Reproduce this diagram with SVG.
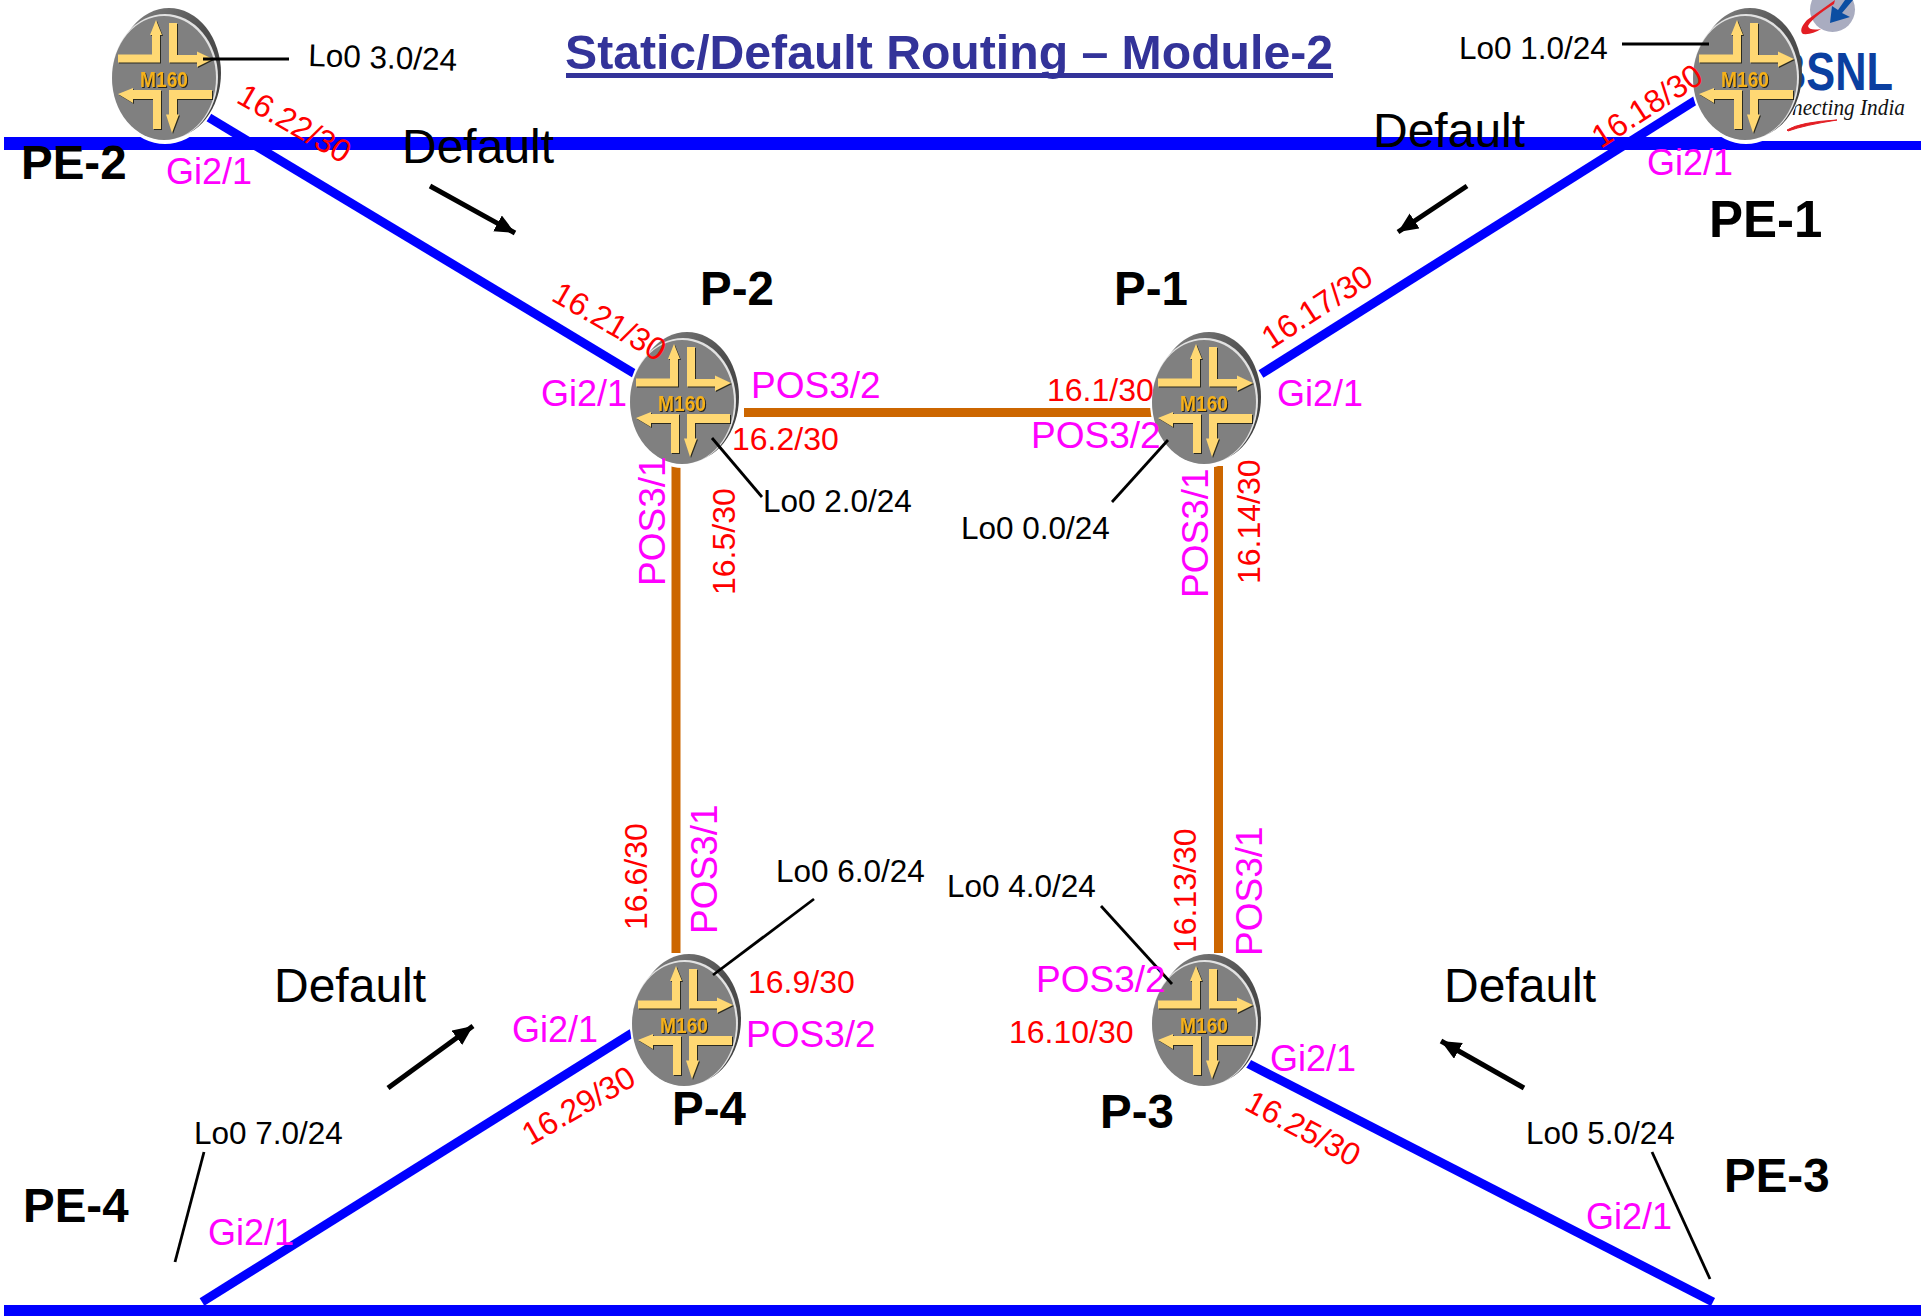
<svg xmlns="http://www.w3.org/2000/svg" width="1923" height="1316" viewBox="0 0 1923 1316">
<style>
text{font-family:"Liberation Sans",Arial,sans-serif}
.lo{font-size:31.5px;fill:#000}
.d{font-size:48px;fill:#000}
.n{font-size:47.5px;font-weight:bold;fill:#000}
.g{font-size:37px;fill:#ff00ff}
.gi{font-size:36px;fill:#ff00ff}
.r{font-size:32px;fill:#ff0000}
.bar{fill:#0000ff}
.blue{stroke:#0000ff;stroke-width:9;fill:none}
.or{stroke:#cc6600;stroke-width:9;fill:none}
.lead{stroke:#000;stroke-width:2.8;fill:none}
.arr{stroke:#000;stroke-width:5;fill:none;marker-end:url(#ah)}
.m{font-size:22px;font-weight:bold;fill:#f6b119;text-anchor:middle;filter:drop-shadow(1px 1px 0 #222)}
.ya{fill:#ffd873;filter:drop-shadow(1.2px 1.2px 0 #2a2a20)}
</style>
<defs>
<marker id="ah" markerUnits="userSpaceOnUse" markerWidth="24" markerHeight="20" refX="20" refY="9" orient="auto"><path d="M0 0L20 9L0 18Z" fill="#000"/></marker>
<linearGradient id="bk" x1="0" y1="0" x2="1" y2="1"><stop offset="0" stop-color="#8a8a8a"/><stop offset=".5" stop-color="#505050"/><stop offset="1" stop-color="#3a3a3a"/></linearGradient>
<g id="router">
<ellipse cx="0" cy="1" rx="55" ry="66" fill="#fff"/>
<ellipse cx="4" cy="-4" rx="52" ry="65" fill="url(#bk)"/>
<ellipse cx="0" cy="0" rx="53" ry="63" fill="#e2e2e2"/>
<ellipse cx="-1" cy="1" rx="52" ry="62" fill="#808080"/>
<path class="ya" d="M-47-22.500H-13V-42H-15L-9-57L-3-42H-5V-14.500H-47Z"/>
<path class="ya" d="M4-54H12V-22H32V-25.500L48-18L32-10V-14.500H4Z"/>
<path class="ya" d="M47 13V22H12V37.500H14L7 56L1 37.500H4V13Z"/>
<path class="ya" d="M-4 13V52H-12V22H-32V26L-47 17L-32 11V13Z"/>
<text class="m" x="-1" y="10" textLength="48" lengthAdjust="spacingAndGlyphs">M160</text>
</g>
</defs>

<g id="title"><text x="565" y="69" font-size="48" font-weight="bold" fill="#333399" textLength="768" lengthAdjust="spacingAndGlyphs">Static/Default Routing – Module-2</text><rect x="566" y="73" width="767" height="5" fill="#333399"/></g>

<g id="logo">
<circle cx="1832.500" cy="9.500" r="22.500" fill="#a9acc0"/>
<path d="M1835 0L1807 20Q1798 30 1803 34Q1812 35 1821 29Q1809 31 1808 26Q1812 18 1834 4Z" fill="#e31e24"/>
<path d="M1853 0L1842 13L1850 17L1830 23L1832 6L1838 10L1845 0Z" fill="#0b4ea2"/>
<text x="1775" y="90" font-size="53" font-weight="bold" fill="#0b3fa0" textLength="118" lengthAdjust="spacingAndGlyphs">BSNL</text>
<text x="1792" y="115" font-size="23" font-style="italic" fill="#111" style="font-family:'Liberation Serif',serif" textLength="113" lengthAdjust="spacingAndGlyphs">necting India</text>
<path d="M1787 130Q1800 122 1837 120Q1805 125 1788 131Z" fill="#e31e24" stroke="#e31e24"/>
</g>

<g id="connectors">
<rect class="bar" x="4" y="137" width="1746" height="13"/>
<rect class="bar" x="1750" y="141" width="171" height="9"/>
<rect class="bar" x="4" y="1305" width="1917" height="11"/>
<path class="blue" d="M208 117L635 374"/>
<path class="blue" d="M1696 100L1261 374"/>
<path class="blue" d="M202 1302L632 1033"/>
<path class="blue" d="M1247 1063L1713 1302"/>
<path class="or" d="M744 412.500H1153"/>
<path class="or" d="M676 466V953"/>
<path class="or" d="M1218.500 466V953"/>
</g>

<g id="PE-2"><use href="#router" x="165" y="77"/><text class="n" x="21" y="179">PE-2</text></g>
<g id="PE-1"><use href="#router" x="1746" y="77"/><text class="n" x="1709" y="237" style="font-size:51px">PE-1</text></g>
<g id="P-2"><use href="#router" x="683" y="401"/><text class="n" x="700" y="305">P-2</text></g>
<g id="P-1"><use href="#router" x="1205" y="401"/><text class="n" x="1114" y="305">P-1</text></g>
<g id="P-4"><use href="#router" x="685" y="1023"/><text class="n" x="672" y="1125">P-4</text></g>
<g id="P-3"><use href="#router" x="1205" y="1023"/><text class="n" x="1100" y="1128">P-3</text></g>
<g id="PE-4"><text class="n" x="23" y="1222">PE-4</text></g>
<g id="PE-3"><text class="n" x="1724" y="1192">PE-3</text></g>

<g id="leaders">
<path class="lead" d="M203 59H289"/>
<path class="lead" d="M1622 44H1709"/>
<path class="lead" d="M712 438L762 497"/>
<path class="lead" d="M1168 440L1112 502"/>
<path class="lead" d="M814 899L713 975"/>
<path class="lead" d="M1101 906L1172 984"/>
<path class="lead" d="M204 1152L175 1262"/>
<path class="lead" d="M1652 1152L1710 1279"/>
</g>
<g id="default-arrows">
<path class="arr" d="M430 186L515 233"/>
<path class="arr" d="M1467 186L1398 232"/>
<path class="arr" d="M388 1088L473 1026"/>
<path class="arr" d="M1524 1088L1441 1041"/>
</g>

<g id="labels">
<text class="lo" transform="translate(308 66) rotate(1.8)">Lo0 3.0/24</text>
<text class="lo" x="1459" y="59">Lo0 1.0/24</text>
<text class="lo" x="763" y="512">Lo0 2.0/24</text>
<text class="lo" x="961" y="539">Lo0 0.0/24</text>
<text class="lo" x="776" y="882">Lo0 6.0/24</text>
<text class="lo" x="947" y="897">Lo0 4.0/24</text>
<text class="lo" x="194" y="1144">Lo0 7.0/24</text>
<text class="lo" x="1526" y="1144">Lo0 5.0/24</text>
<text class="d" x="402" y="163">Default</text>
<text class="d" x="1373" y="147">Default</text>
<text class="d" x="274" y="1002">Default</text>
<text class="d" x="1444" y="1002">Default</text>
<text class="gi" x="166" y="184">Gi2/1</text>
<text class="gi" x="1647" y="175">Gi2/1</text>
<text class="gi" x="541" y="406">Gi2/1</text>
<text class="gi" x="1277" y="406">Gi2/1</text>
<text class="gi" x="512" y="1042">Gi2/1</text>
<text class="gi" x="1270" y="1071">Gi2/1</text>
<text class="gi" x="208" y="1245">Gi2/1</text>
<text class="gi" x="1586" y="1229">Gi2/1</text>
<text class="g" x="751" y="398">POS3/2</text>
<text class="g" x="1031" y="448">POS3/2</text>
<text class="g" x="746" y="1047">POS3/2</text>
<text class="g" x="1036" y="992">POS3/2</text>
<text class="g" transform="translate(665 586) rotate(-90)">POS3/1</text>
<text class="g" transform="translate(1208 598) rotate(-90)">POS3/1</text>
<text class="g" transform="translate(717 934) rotate(-90)">POS3/1</text>
<text class="g" transform="translate(1262 956) rotate(-90)">POS3/1</text>
<text class="r" x="732" y="450">16.2/30</text>
<text class="r" x="1047" y="401">16.1/30</text>
<text class="r" x="748" y="993">16.9/30</text>
<text class="r" x="1009" y="1043">16.10/30</text>
<text class="r" transform="translate(735 595) rotate(-90)">16.5/30</text>
<text class="r" transform="translate(1260 584) rotate(-90)">16.14/30</text>
<text class="r" transform="translate(647 930) rotate(-90)">16.6/30</text>
<text class="r" transform="translate(1196 953) rotate(-90)">16.13/30</text>
<text class="r" text-anchor="middle" transform="translate(289 133) rotate(30)">16.22/30</text>
<text class="r" text-anchor="middle" transform="translate(604 331) rotate(30)">16.21/30</text>
<text class="r" text-anchor="middle" transform="translate(1653 115) rotate(-33)">16.18/30</text>
<text class="r" text-anchor="middle" transform="translate(1323 316) rotate(-33)">16.17/30</text>
<text class="r" text-anchor="middle" transform="translate(584 1115) rotate(-30)">16.29/30</text>
<text class="r" text-anchor="middle" transform="translate(1298 1138) rotate(28)">16.25/30</text>
</g>
</svg>
